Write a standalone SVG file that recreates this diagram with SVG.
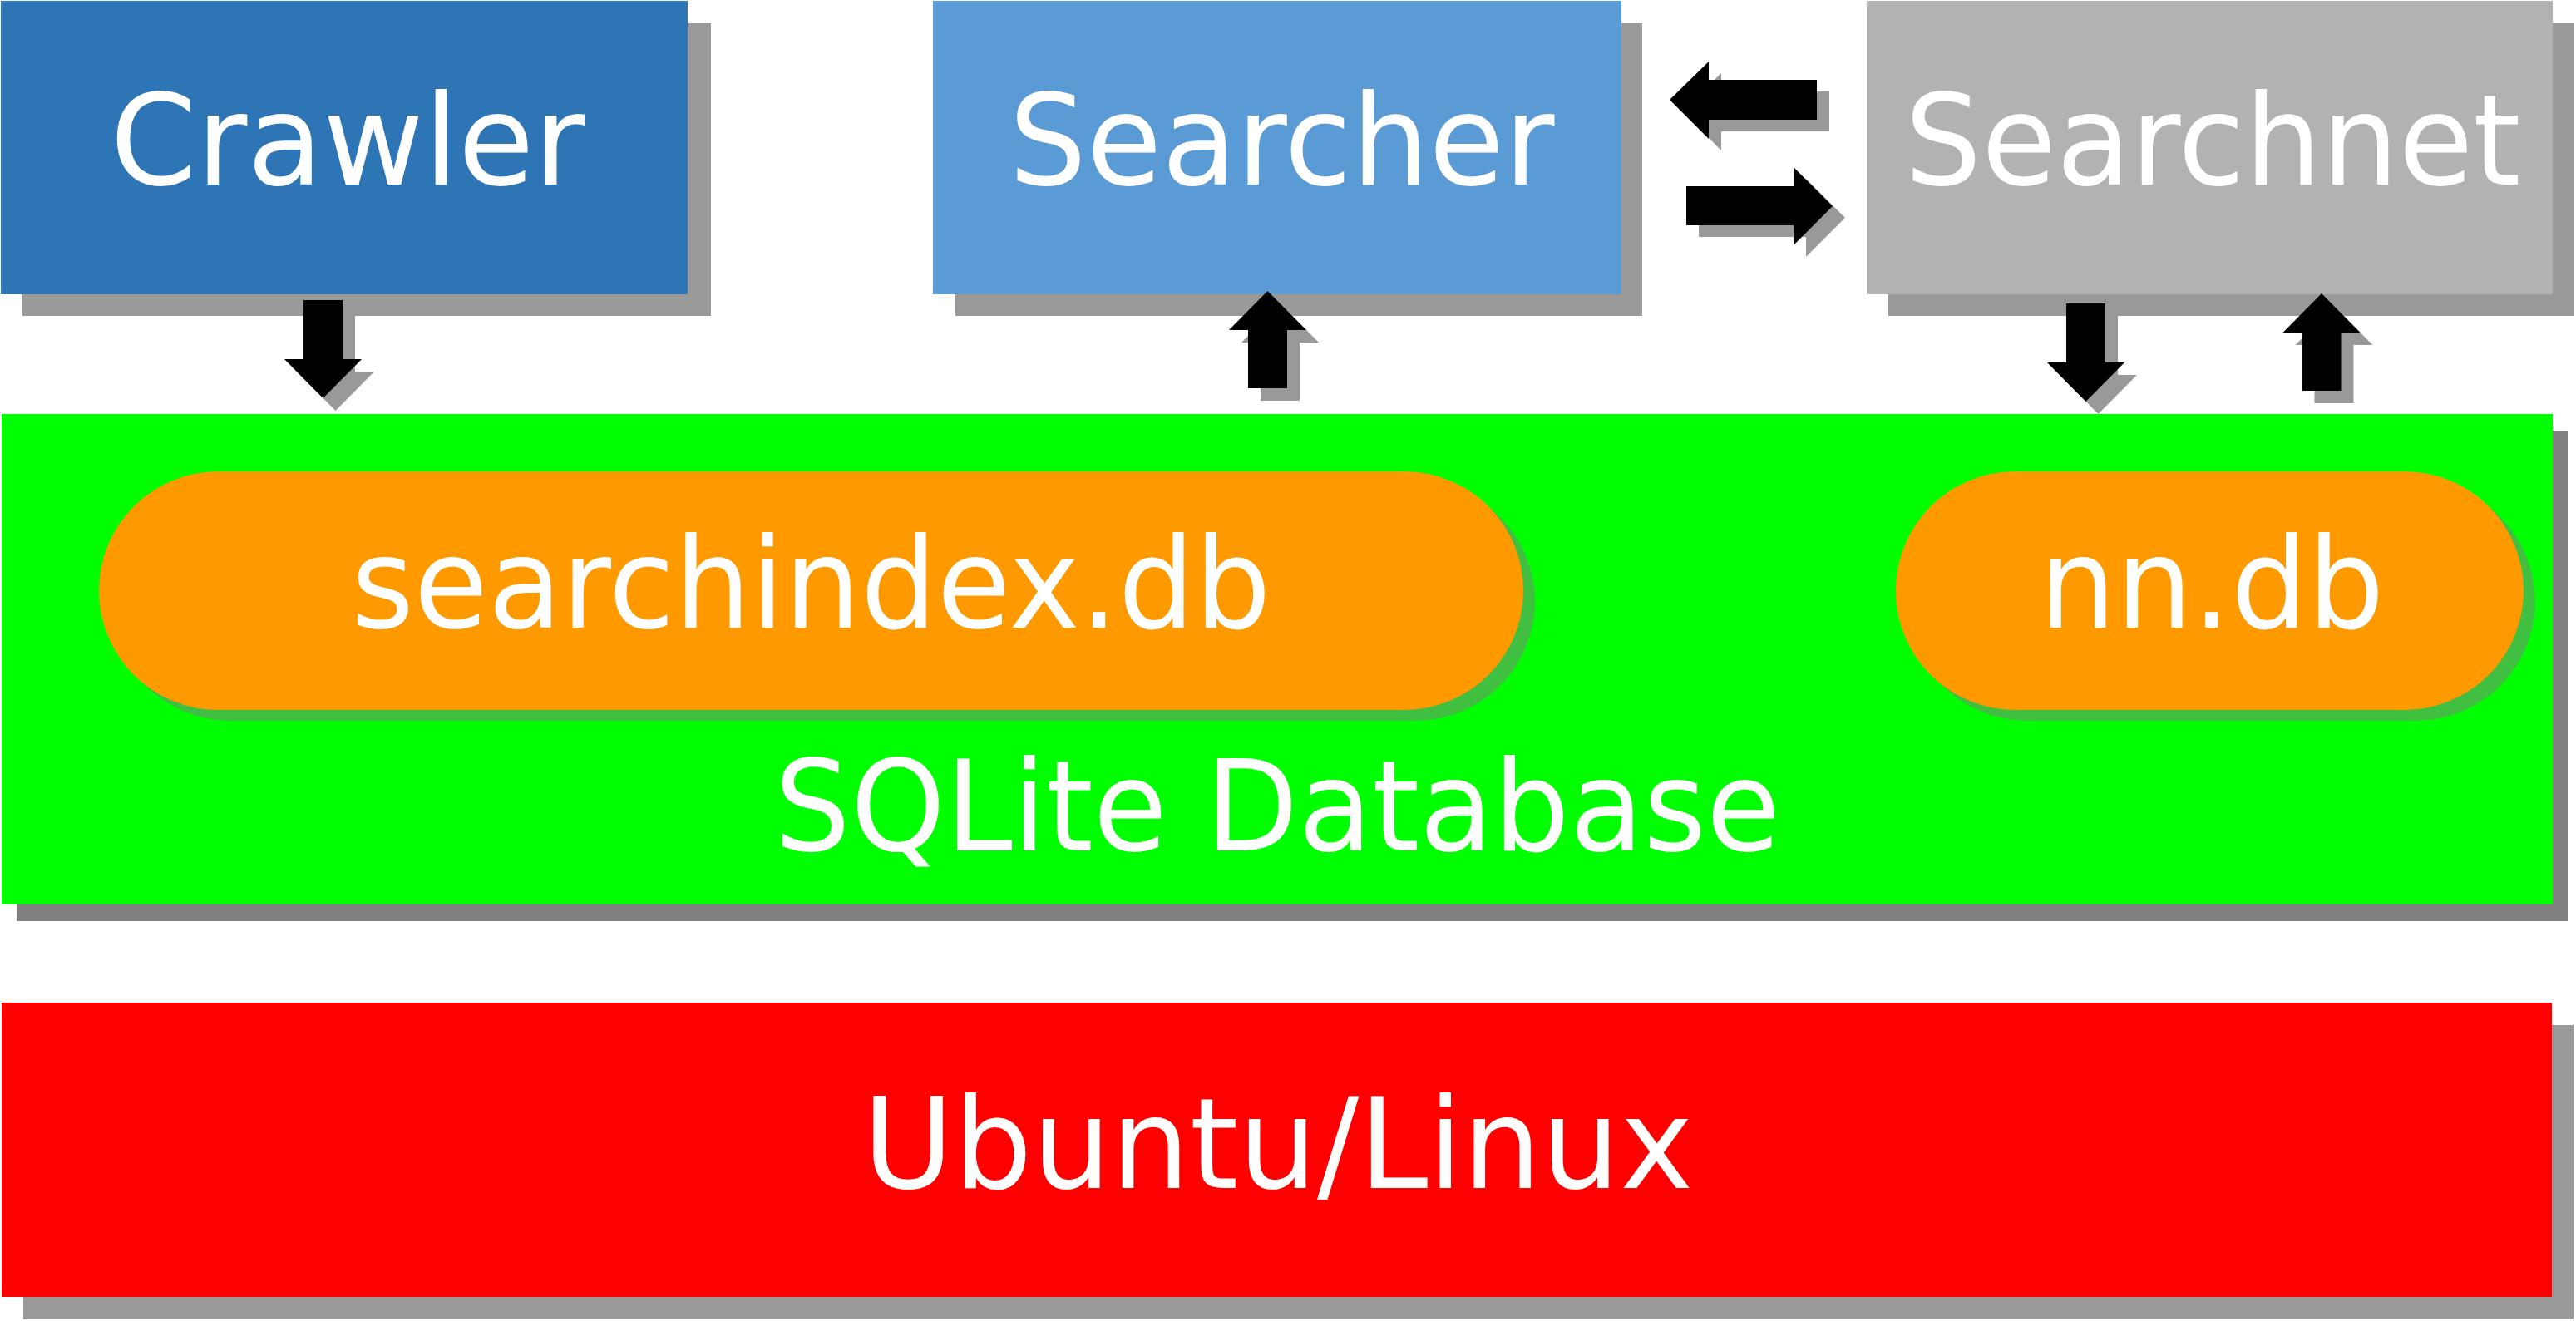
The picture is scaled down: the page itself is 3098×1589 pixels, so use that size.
<svg xmlns="http://www.w3.org/2000/svg" width="3098" height="1589" viewBox="0 0 3098 1589">
<style>
.lbl{font-family:"DejaVu Sans","Liberation Sans",sans-serif;font-size:151px;fill:#ffffff;text-anchor:middle}
.shd{fill:#999999}
.arr{fill:#000000}
</style>
<defs>
<polygon id="down" points="-23.5,0 23.5,0 23.5,71 46.5,71 0,118 -46.5,71 -23.5,71"/>
<polygon id="up" points="0,0 46.5,47 23.5,47 23.5,117 -23.5,117 -23.5,47 -46.5,47"/>
</defs>
<rect width="3098" height="1589" fill="#ffffff"/>

<g id="ubuntu">
<rect class="shd" x="28" y="1233" width="3067" height="354"/>
<rect x="2" y="1206" width="3067" height="354" fill="#ff0000"/>
<text class="lbl" x="1537" y="1429" textLength="999" lengthAdjust="spacingAndGlyphs">Ubuntu/Linux</text>
</g>

<g id="sqlite">
<rect x="20" y="518" width="3068" height="590" fill="#808080"/>
<rect x="2" y="498" width="3068" height="590" fill="#00ff00"/>
<text class="lbl" x="1536" y="1023" textLength="1210" lengthAdjust="spacingAndGlyphs">SQLite Database</text>
</g>

<g id="searchindex">
<rect x="133" y="580" width="1713" height="287" rx="143.5" fill="#40bf40"/>
<rect x="119" y="567" width="1713" height="287" rx="143.5" fill="#ff9900"/>
<text class="lbl" x="975.5" y="755" textLength="1106" lengthAdjust="spacingAndGlyphs">searchindex.db</text>
</g>

<g id="nndb">
<rect x="2294" y="580" width="755" height="287" rx="143.5" fill="#40bf40"/>
<rect x="2280" y="567" width="755" height="287" rx="143.5" fill="#ff9900"/>
<text class="lbl" x="2660" y="755" textLength="415" lengthAdjust="spacingAndGlyphs">nn.db</text>
</g>

<g id="crawler">
<rect class="shd" x="27" y="28" width="828" height="352"/>
<rect x="1" y="1" width="826" height="353" fill="#2e75b6"/>
<text class="lbl" x="418" y="222" textLength="571" lengthAdjust="spacingAndGlyphs">Crawler</text>
</g>

<g id="searcher">
<rect class="shd" x="1149" y="28" width="826" height="352"/>
<rect x="1122" y="1" width="828" height="353" fill="#5b9bd5"/>
<text class="lbl" x="1541.5" y="222" textLength="656" lengthAdjust="spacingAndGlyphs">Searcher</text>
</g>

<g id="searchnet">
<rect class="shd" x="2271" y="28" width="825" height="352"/>
<rect x="2245" y="1" width="825" height="353" fill="#b2b2b2"/>
<text class="lbl" x="2661" y="222" textLength="741" lengthAdjust="spacingAndGlyphs">Searchnet</text>
</g>

<g id="connectors">
<!-- Crawler -> DB -->
<use href="#down" class="shd" x="403.5" y="376"/>
<use href="#down" class="arr" x="388.5" y="361"/>
<!-- DB -> Searcher -->
<use href="#up" class="shd" x="1539.5" y="365"/>
<use href="#up" class="arr" x="1524.5" y="350"/>
<!-- Searchnet -> DB -->
<use href="#down" class="shd" x="2523.5" y="380"/>
<use href="#down" class="arr" x="2508.5" y="365"/>
<!-- DB -> Searchnet -->
<use href="#up" class="shd" x="2807" y="368"/>
<use href="#up" class="arr" x="2792" y="353"/>
<!-- Searchnet -> Searcher (left) -->
<polygon class="shd" points="2023,134 2070,88 2070,110 2200,110 2200,158 2070,158 2070,181"/>
<polygon class="arr" points="2008,120 2055,74 2055,96 2185,96 2185,144 2055,144 2055,167"/>
<!-- Searcher -> Searchnet (right) -->
<polygon class="shd" points="2043,238 2172,238 2172,215 2219,262 2172,309 2172,285 2043,285"/>
<polygon class="arr" points="2028,224 2157,224 2157,201 2204,248 2157,295 2157,271 2028,271"/>
</g>
</svg>
